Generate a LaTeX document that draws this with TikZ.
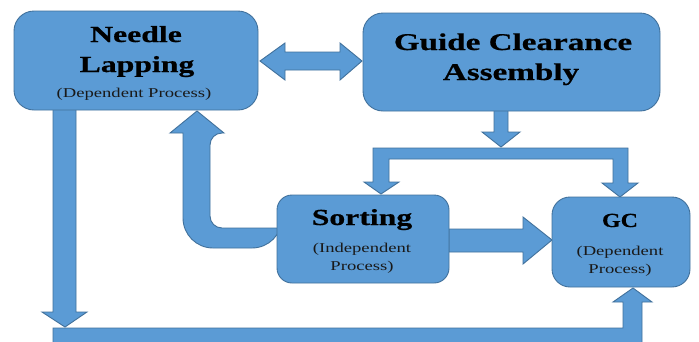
\documentclass[tikz,border=0pt]{standalone}
\usepackage{fontspec}
\setmainfont{Liberation Serif}[FakeStretch=1.38, BoldFeatures={FakeBold=0.6}]
\newfontfamily\gcfont{Liberation Serif}[FakeStretch=1.2, BoldFeatures={FakeBold=0.6}]
\definecolor{fillblue}{HTML}{5B9BD5}
\definecolor{edgeblue}{HTML}{41719C}
\tikzset{
  box/.style={draw=edgeblue, fill=fillblue, line width=0.9pt, inner sep=0pt},
  blockarrow/.style={draw=edgeblue, fill=fillblue, line width=0.9pt, line join=miter},
  title/.style={anchor=base, text=black, font=\fontsize{23}{28}\selectfont\bfseries, inner sep=0pt},
  note/.style={anchor=base, text=black!90, font=\fontsize{13.5}{18}\selectfont, inner sep=0pt},
}
\begin{document}
\begin{tikzpicture}[x=1pt,y=-1pt]
\useasboundingbox (0,0) rectangle (699,341);
\clip (0,0) rectangle (699,341);
\fill[white] (0,0) rectangle (699,341);

% block arrows (drawn below the boxes)
% double arrow Needle Lapping <-> Guide Clearance Assembly
\draw[blockarrow] (260,61) -- (285,43) -- (285,52) -- (340,52) -- (340,43) -- (362,61)
  -- (340,80) -- (340,70) -- (285,70) -- (285,80) -- cycle;
% down arrow from Guide Clearance Assembly
\draw[blockarrow] (494,105) -- (508,105) -- (508,132) -- (520,132) -- (501,147)
  -- (482,132) -- (494,132) -- cycle;
% splitter bar with two down arrows
\draw[blockarrow] (373,148) -- (628,148) -- (628,183) -- (638,183) -- (620,197)
  -- (602,183) -- (613,183) -- (613,159) -- (389,159) -- (389,182) -- (399,182)
  -- (381,194) -- (364,182) -- (373,182) -- cycle;
% Sorting -> GC
\draw[blockarrow] (449,229) -- (523,229) -- (523,217) -- (552,240) -- (523,264)
  -- (523,252) -- (449,252) -- cycle;
% bent arrow Sorting -> Needle Lapping
\draw[blockarrow] (282,228) {[rounded corners=12] -- (210,228) -- (210,133)}
  -- (224,133) -- (197,111) -- (170,133) -- (183,133)
  {[rounded corners=30] -- (183,248) -- (282,248)} -- cycle;
% down arrow from Needle Lapping
\draw[blockarrow] (53,105) -- (53,312) -- (42,312) -- (65,327) -- (87,312)
  -- (76,312) -- (76,105) -- cycle;
% bottom bar with up arrow into GC
\draw[blockarrow] (53,328) -- (623,328) -- (623,302) -- (613,302) -- (633,288)
  -- (652,302) -- (642,302) -- (642,350) -- (53,350) -- cycle;

% boxes
\node[box, rounded corners=20pt, minimum width=244pt, minimum height=99pt] (nl) at (136,60.5) {};
\node[box, rounded corners=20pt, minimum width=297pt, minimum height=98pt] (gca) at (511.5,62) {};
\node[box, rounded corners=15pt, minimum width=172pt, minimum height=88pt] (srt) at (363,239) {};
\node[box, rounded corners=18pt, minimum width=138pt, minimum height=90pt] (gc) at (621,242) {};

% texts
\node[title] (t1) at (136,42) {Needle};
\node[title] (t2) at (137,72) {Lapping};
\node[note] (t3) at (134,97) {(Dependent Process)};
\node[title, font=\fontsize{24}{28}\selectfont\bfseries] (t4) at (513,50) {Guide Clearance};
\node[title, font=\fontsize{24}{28}\selectfont\bfseries] (t5) at (511,80) {Assembly};
\node[title] (t6) at (362,225) {Sorting};
\node[note] (t7) at (362,252) {(Independent};
\node[note] (t8) at (362,270) {Process)};
\node[title, font=\fontsize{20}{24}\gcfont\bfseries] (t9) at (620,227) {GC};
\node[note] (t10) at (620,255) {(Dependent};
\node[note] (t11) at (620,273) {Process)};
\end{tikzpicture}
\end{document}
